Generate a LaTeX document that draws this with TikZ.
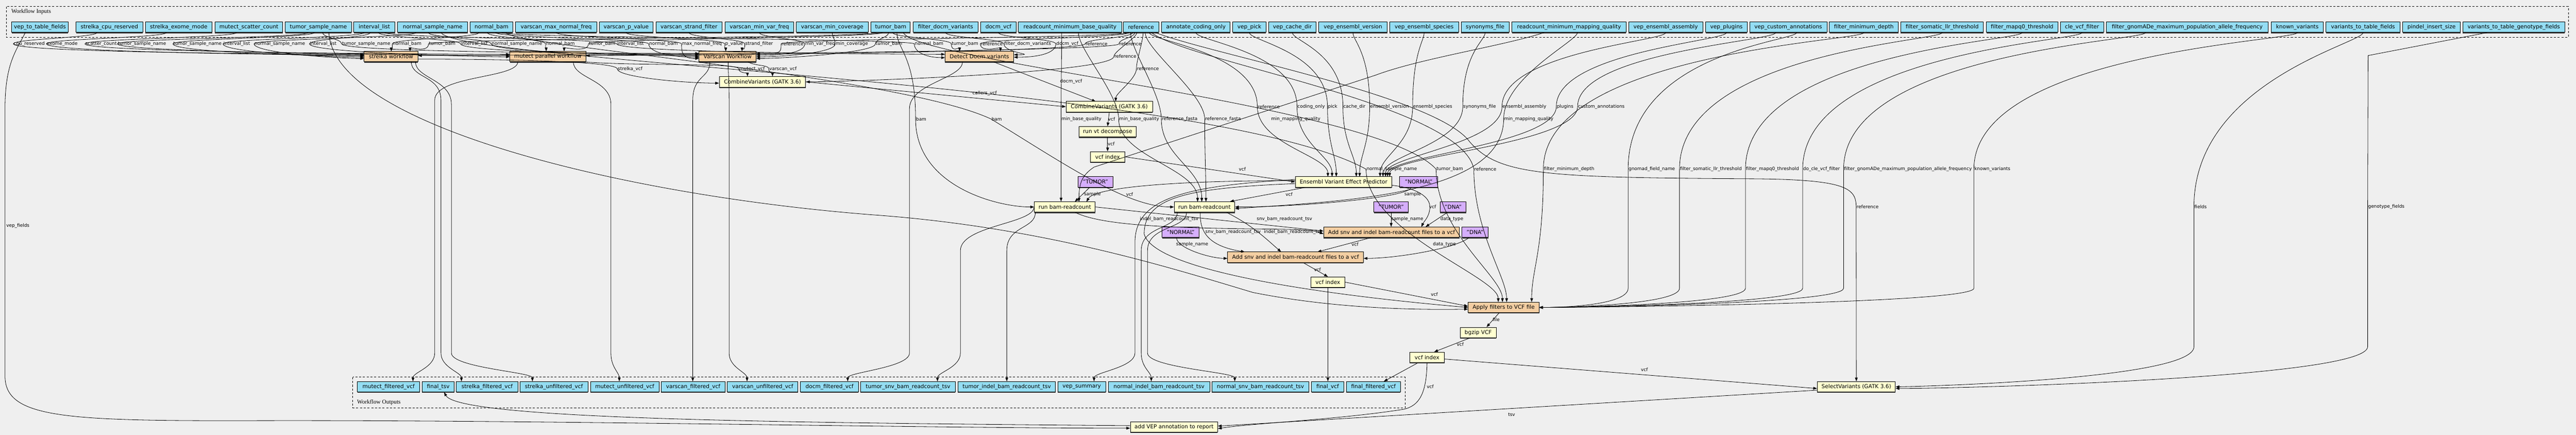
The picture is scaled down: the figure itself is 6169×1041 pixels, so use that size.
\documentclass[tikz,border=0pt]{standalone}
\usepackage{fontspec}
\setmainfont{DejaVu Sans}
\newfontfamily\serifcl{Liberation Serif}
\usetikzlibrary{arrows.meta,shadows}
\definecolor{bgc}{RGB}{239,239,239}
\definecolor{cin}{RGB}{148,221,244}
\definecolor{cor}{RGB}{244,206,162}
\definecolor{cye}{RGB}{255,255,208}
\definecolor{cpu}{RGB}{213,174,252}
\tikzset{
 box/.style={draw=black, line width=1.2pt, minimum height=25pt, inner xsep=2pt, inner ysep=1pt,
   font=\fontsize{13}{15}\selectfont,
   drop shadow={shadow xshift=0pt,shadow yshift=-2.2pt,fill=black!75,opacity=1}},
 inp/.style={box, fill=cin},
 orn/.style={box, fill=cor},
 yel/.style={box, fill=cye},
 pur/.style={box, fill=cpu},
 lb/.style={font=\fontsize{11}{13}\selectfont, inner sep=1pt},
 edg/.style={line width=1pt, -{Triangle[length=9pt,width=6.5pt]}},
 clus/.style={dash pattern=on 5pt off 4pt, line width=1.3pt},
 clab/.style={font=\serifcl\fontsize{14}{16}\selectfont, inner sep=0pt},
}
\newcommand\topedge[6]{\node[lb] (#2) at (#3,105) {#4};
 \draw[edg] #1 .. controls +(0,12) and +(0,-12) .. (#2.west) .. controls +(0,22) and +#5 .. #6;}
\newcommand\outedge[4]{\draw[edg] #1 .. controls +(0,40) and +(0,-60) .. (#2,#4) -- (#2,845) .. controls (#2,880) and +(0,-22) .. #3;}
\newcommand\vepedge[5]{\node[lb,anchor=west] (#3) at (#2,255) {#4};
 \draw[edg] #1 .. controls +(0,20) and +(0,-130) .. (#3.west) .. controls +(0,90) and +(0,-50) .. (#5,423);}
\newcommand\apedge[4]{\node[lb,anchor=west] (#3) at (#2,405) {#4};
 \draw[edg] #1 .. controls +(0,20) and +(0,-280) .. (#3.west) -- (#2,690) .. controls (#2,728) and (3760,736) .. (3686,736);}
\begin{document}
\begin{tikzpicture}[x=1pt,y=-1pt]
\fill[bgc] (0,0) rectangle (6169,1041);
\useasboundingbox (0,0) rectangle (6169,1041);
% clusters
\draw[clus] (15,16) rectangle (6151,89);
\node[clab,anchor=west] (tin) at (27,28) {Workflow Inputs};
\draw[clus] (845,903) rectangle (3365,976);
\node[clab,anchor=west] (tout) at (855,963) {Workflow Outputs};
% inputs
\node[inp,minimum width=135] (i1) at (95.5,65) {vep\_to\_table\_fields};
\node[inp,minimum width=160] (i2) at (262,65) {strelka\_cpu\_reserved};
\node[inp,minimum width=160] (i3) at (428,65) {strelka\_exome\_mode};
\node[inp,minimum width=162] (i4) at (596,65) {mutect\_scatter\_count};
\node[inp,minimum width=159] (i5) at (762.5,65) {tumor\_sample\_name};
\node[inp,minimum width=99] (i6) at (896.5,65) {interval\_list};
\node[inp,minimum width=168] (i7) at (1036,65) {normal\_sample\_name};
\node[inp,minimum width=102] (i8) at (1177,65) {normal\_bam};
\node[inp,minimum width=194] (i9) at (1332,65) {varscan\_max\_normal\_freq};
\node[inp,minimum width=129] (i10) at (1499.5,65) {varscan\_p\_value};
\node[inp,minimum width=158] (i11) at (1650,65) {varscan\_strand\_filter};
\node[inp,minimum width=165] (i12) at (1818.5,65) {varscan\_min\_var\_freq};
\node[inp,minimum width=172] (i13) at (1993,65) {varscan\_min\_coverage};
\node[inp,minimum width=94] (i14) at (2133,65) {tumor\_bam};
\node[inp,minimum width=155] (i15) at (2264.5,65) {filter\_docm\_variants};
\node[inp,minimum width=86] (i16) at (2391,65) {docm\_vcf};
\node[inp,minimum width=247] (i17) at (2562.5,65) {readcount\_minimum\_base\_quality};
\node[inp,minimum width=85] (i18) at (2732.5,65) {reference};
\node[inp,minimum width=164] (i19) at (2864,65) {annotate\_coding\_only};
\node[inp,minimum width=80] (i20) at (2992,65) {vep\_pick};
\node[inp,minimum width=114] (i21) at (3095,65) {vep\_cache\_dir};
\node[inp,minimum width=164] (i22) at (3240,65) {vep\_ensembl\_version};
\node[inp,minimum width=165] (i23) at (3410.5,65) {vep\_ensembl\_species};
\node[inp,minimum width=115] (i24) at (3556.5,65) {synonyms\_file};
\node[inp,minimum width=273] (i25) at (3757.5,65) {readcount\_minimum\_mapping\_quality};
\node[inp,minimum width=178] (i26) at (3989,65) {vep\_ensembl\_assembly};
\node[inp,minimum width=99] (i27) at (4134.5,65) {vep\_plugins};
\node[inp,minimum width=185] (i28) at (4282.5,65) {vep\_custom\_annotations};
\node[inp,minimum width=165] (i29) at (4463.5,65) {filter\_minimum\_depth};
\node[inp,minimum width=198] (i30) at (4651,65) {filter\_somatic\_llr\_threshold};
\node[inp,minimum width=171] (i31) at (4842.5,65) {filter\_mapq0\_threshold};
\node[inp,minimum width=104] (i32) at (4986,65) {cle\_vcf\_filter};
\node[inp,minimum width=388] (i33) at (5238,65) {filter\_gnomADe\_maximum\_population\_allele\_frequency};
\node[inp,minimum width=125] (i34) at (5501.5,65) {known\_variants};
\node[inp,minimum width=178] (i35) at (5659,65) {variants\_to\_table\_fields};
\node[inp,minimum width=138] (i36) at (5823,65) {pindel\_insert\_size};
\node[inp,minimum width=244] (i37) at (6020,65) {variants\_to\_table\_genotype\_fields};
% steps
\node[orn,minimum width=129] (S) at (936.5,135.5) {strelka workflow};
\node[orn,minimum width=182] (M) at (1312,135.5) {mutect parallel workflow};
\node[orn,minimum width=137] (V) at (1742.5,135.5) {Varscan Workflow};
\node[orn,minimum width=165] (D) at (2345.5,135.5) {Detect Docm variants};
\node[yel,minimum width=207] (CV1) at (1826,196) {CombineVariants (GATK 3.6)};
\node[yel,minimum width=207] (CV2) at (2656.5,255.5) {CombineVariants (GATK 3.6)};
\node[yel,minimum width=137] (VT) at (2652.5,315.5) {run vt decompose};
\node[yel,minimum width=83] (X1) at (2652.5,375.5) {vcf index};
\node[pur,minimum width=83] (T1) at (2623.5,435.5) {"TUMOR"};
\node[yel,minimum width=231] (VEP) at (3217.5,435.5) {Ensembl Variant Effect Predictor};
\node[pur,minimum width=91] (N1) at (3397.5,435.5) {"NORMAL"};
\node[yel,minimum width=146] (B1) at (2550,495.5) {run bam-readcount};
\node[yel,minimum width=145] (B2) at (2884.5,495.5) {run bam-readcount};
\node[pur,minimum width=83] (T2) at (3331.5,495.5) {"TUMOR"};
\node[pur,minimum width=62] (DN1) at (3480,495.5) {"DNA"};
\node[pur,minimum width=89] (N2) at (2827.5,556) {"NORMAL"};
\node[orn,minimum width=325] (A1) at (3332.5,556) {Add snv and indel bam-readcount files to a vcf};
\node[pur,minimum width=63] (DN2) at (3532.5,556) {"DNA"};
\node[orn,minimum width=325] (A2) at (3102.5,615.5) {Add snv and indel bam-readcount files to a vcf};
\node[yel,minimum width=82] (X2) at (3180,675.5) {vcf index};
\node[orn,minimum width=170] (AP) at (3601,736) {Apply filters to VCF file};
\node[yel,minimum width=86] (BG) at (3540,796) {bgzip VCF};
\node[yel,minimum width=83] (X3) at (3417.5,855.5) {vcf index};
\node[yel,minimum width=187] (SV) at (4445.5,926) {SelectVariants (GATK 3.6)};
\node[yel,minimum width=209] (AV) at (2811.5,1022) {add VEP annotation to report};
% outputs
\node[inp,minimum width=149] (o1) at (930.5,926) {mutect\_filtered\_vcf};
\node[inp,minimum width=77] (o2) at (1049.5,926) {final\_tsv};
\node[inp,minimum width=147] (o3) at (1166.5,926) {strelka\_filtered\_vcf};
\node[inp,minimum width=163] (o4) at (1326.5,926) {strelka\_unfiltered\_vcf};
\node[inp,minimum width=164] (o5) at (1496,926) {mutect\_unfiltered\_vcf};
\node[inp,minimum width=154] (o6) at (1660,926) {varscan\_filtered\_vcf};
\node[inp,minimum width=169] (o7) at (1826.5,926) {varscan\_unfiltered\_vcf};
\node[inp,minimum width=139] (o8) at (1986.5,926) {docm\_filtered\_vcf};
\node[inp,minimum width=227] (o9) at (2174.5,926) {tumor\_snv\_bam\_readcount\_tsv};
\node[inp,minimum width=234] (o10) at (2411,926) {tumor\_indel\_bam\_readcount\_tsv};
\node[inp,minimum width=115] (o11) at (2590.5,926) {vep\_summary};
\node[inp,minimum width=243] (o12) at (2775.5,926) {normal\_indel\_bam\_readcount\_tsv};
\node[inp,minimum width=233] (o13) at (3018.5,926) {normal\_snv\_bam\_readcount\_tsv};
\node[inp,minimum width=77] (o14) at (3179.5,926) {final\_vcf};
\node[inp,minimum width=130] (o15) at (3289,926) {final\_filtered\_vcf};
% ---- inputs to top steps
\topedge{([xshift=-30]i2.south)}{t1}{70}{cpu\_reserved}{(-60,0)}{(872,130)}
\topedge{([xshift=-30]i3.south)}{t2}{149}{exome\_mode}{(-60,0)}{(872,132)}
\topedge{([xshift=-30]i4.south)}{t3}{242}{scatter\_count}{(-60,0)}{(1221,130)}
\topedge{([xshift=-25]i5.south)}{t4}{340}{tumor\_sample\_name}{(-60,0)}{(1221,133)}
\topedge{([xshift=-10]i5.south)}{t5}{473}{tumor\_sample\_name}{(-60,0)}{(872,134)}
\topedge{([xshift=-25]i6.south)}{t6}{567}{interval\_list}{(-60,0)}{(872,137)}
\topedge{([xshift=-40]i7.south)}{t7}{670}{normal\_sample\_name}{(-60,0)}{(872,140)}
\topedge{([xshift=-10]i6.south)}{t8}{774}{interval\_list}{(-60,0)}{(1221,136)}
\topedge{([xshift=10]i5.south)}{t9}{877}{tumor\_sample\_name}{(-60,0)}{(1674,128)}
\topedge{([xshift=-30]i8.south)}{t10}{975}{normal\_bam}{(0,-10)}{(937,123)}
\topedge{([xshift=-35]i14.south)}{t11}{1059}{tumor\_bam}{(0,-10)}{(982,123)}
\topedge{([xshift=10]i6.south)}{t12}{1136}{interval\_list}{(-60,0)}{(1674,131)}
\topedge{([xshift=-10]i7.south)}{t13}{1238}{normal\_sample\_name}{(-60,0)}{(1674,134)}
\topedge{([xshift=-10]i8.south)}{t14}{1342}{normal\_bam}{(0,-10)}{(1308,123)}
\topedge{([xshift=-20]i14.south)}{t15}{1442}{tumor\_bam}{(0,-10)}{(1351,123)}
\topedge{([xshift=25]i6.south)}{t16}{1510}{interval\_list}{(-60,0)}{(2263,130)}
\topedge{([xshift=10]i8.south)}{t17}{1589}{normal\_bam}{(-60,0)}{(1674,137)}
\topedge{(i9.south)}{t18}{1681}{max\_normal\_freq}{(-40,0)}{(1674,140)}
\topedge{(i10.south)}{t19}{1758}{p\_value}{(0,-10)}{(1738,123)}
\topedge{(i11.south)}{t20}{1818}{strand\_filter}{(0,-10)}{(1777,123)}
\topedge{([xshift=-35]i18.south)}{t21}{1898}{reference}{(60,0)}{(1811,128)}
\topedge{(i12.south)}{t22}{1964}{min\_var\_freq}{(60,0)}{(1811,132)}
\topedge{(i13.south)}{t23}{2040}{min\_coverage}{(60,0)}{(1811,136)}
\topedge{([xshift=-5]i14.south)}{t24}{2129}{tumor\_bam}{(60,0)}{(1811,140)}
\topedge{([xshift=25]i8.south)}{t25}{2225}{normal\_bam}{(-40,0)}{(2263,138)}
\topedge{([xshift=5]i14.south)}{t26}{2311}{tumor\_bam}{(0,-10)}{(2298,123)}
\topedge{([xshift=-30]i18.south)}{t27}{2375}{reference}{(0,-10)}{(2396,123)}
\topedge{(i15.south)}{t28}{2461}{filter\_docm\_variants}{(60,0)}{(2428,131)}
\topedge{(i16.south)}{t29}{2556}{docm\_vcf}{(60,0)}{(2428,137)}
\topedge{([xshift=-20]i18.south)}{t30}{2626}{reference}{(60,0)}{(1403,133)}
\topedge{([xshift=-15]i18.south)}{t31}{2707}{reference}{(60,0)}{(1001,133)}
% ---- steps to CombineVariants
\node[lb] (lsv) at (1509,165) {strelka\_vcf};
\draw[edg] ([yshift=-6]S.east) .. controls +(150,0) and +(0,-20) .. (lsv.west) .. controls +(0,20) and +(-80,0) .. ([yshift=-3]CV1.west);
\node[lb] (lmv) at (1801,165) {mutect\_vcf};
\draw[edg] (M.south east) .. controls +(150,10) and +(0,-15) .. (lmv.west) .. controls +(0,10) and +(0,-8) .. (1790,183);
\node[lb] (lvv) at (1875,165) {varscan\_vcf};
\draw[edg] ([xshift=-20]V.south east) .. controls +(20,10) and +(0,-10) .. (lvv.west) .. controls +(0,10) and +(0,-8) .. (1850,183);
\node[lb] (lrc1) at (2695,135) {reference};
\draw[edg] ([xshift=-10]i18.south) .. controls +(0,12) and +(0,-12) .. (lrc1.west) .. controls +(0,40) and +(80,0) .. (CV1.east);
\node[lb] (lrc2) at (2749,164) {reference};
\draw[edg] ([xshift=5]i18.south) .. controls +(0,20) and +(0,-20) .. (lrc2.west) .. controls +(0,25) and +(0,-20) .. (2672,243);
\draw[edg] (CV1.east) -- (CV2.west);
\node[lb] (lcal) at (2358,224) {callers\_vcf};
\node[lb] (ldv2) at (2565,195) {docm\_vcf};
\draw[edg] ([xshift=35]D.south) -- (2624,243);
\draw[edg] (CV2.south) -- (VT.north);
\node[lb] (lv1) at (2662,285) {vcf};
\draw[edg] (VT.south) -- (X1.north);
\node[lb] (lv2) at (2661,344) {vcf};
\draw[edg] (X1.east) -- (VEP.west);
\node[lb] (lv3) at (2975,405) {vcf};
% ---- VEP inputs
\vepedge{([xshift=20]i18.south)}{3011}{v1}{reference}{3180}
\vepedge{(i19.south)}{3106}{v2}{coding\_only}{3190}
\vepedge{(i20.south)}{3179}{v3}{pick}{3200}
\vepedge{(i21.south)}{3216}{v4}{cache\_dir}{3248}
\vepedge{(i22.south)}{3280}{v5}{ensembl\_version}{3256}
\vepedge{(i23.south)}{3383}{v6}{ensembl\_species}{3305}
\vepedge{(i24.south)}{3503}{v7}{synonyms\_file}{3312}
\vepedge{(i26.south)}{3597}{v8}{ensembl\_assembly}{3318}
\vepedge{(i27.south)}{3727}{v9}{plugins}{3323}
\vepedge{([xshift=-30]i28.south)}{3778}{v10}{custom\_annotations}{3328}
% ---- bam-readcount inputs
\draw[edg] ([xshift=-14]T1.south) -- (2574,483);
\node[lb] (ls1) at (2616,465) {sample};
\node[lb] (lvb1) at (2705,465) {vcf};
\draw[edg] ([yshift=3]VEP.west) .. controls (2800,432) and (2620,450) .. (2602,483);
\draw[edg] ([xshift=25]VEP.south west) -- ([xshift=-12]B2.north east);
\node[lb] (lvb2) at (3087,465) {vcf};
\draw[edg] ([xshift=-18]N1.south) .. controls +(-5,25) and +(150,0) .. (B2.east);
\node[lb] (ls2) at (3383,465) {sample};
\node[lb] (lbb1) at (2206,285) {bam};
\draw[edg] ([xshift=15]i14.south) .. controls +(0,40) and +(0,-150) .. (lbb1.west) .. controls +(0,160) and +(-90,0) .. (B1.west);
\node[lb] (lbb2) at (2387,285) {bam};
\draw[edg] ([xshift=35]i8.south) .. controls +(0,30) and (2150,180) .. (lbb2.west) .. controls (2560,400) and (2700,495) .. (B2.west);
\node[lb] (lmb1) at (2590,285) {min\_base\_quality};
\draw[edg] ([xshift=-20]i17.south) .. controls +(0,30) and +(0,-60) .. (lmb1.west) -- (lmb1.west |- B1.north);
\node[lb] (lmb2) at (2728,285) {min\_base\_quality};
\draw[edg] ([xshift=20]i17.south) .. controls +(0,40) and +(0,-60) .. (lmb2.west) .. controls +(0,90) and +(0,-80) .. (2868,483);
\node[lb] (lrf1) at (2825,285) {reference\_fasta};
\draw[edg] ([xshift=-25]i18.south) .. controls +(0,40) and +(0,-60) .. (lrf1.west) .. controls +(0,90) and +(0,-80) .. (2878,483);
\node[lb] (lrf2) at (2929,285) {reference\_fasta};
\draw[edg] ([xshift=10]i18.south) .. controls +(0,40) and +(0,-60) .. (lrf2.west) .. controls +(0,90) and +(0,-60) .. (2888,483);
\node[lb] (lmm1) at (3103,285) {min\_mapping\_quality};
\draw[edg] ([xshift=-60]i25.south) .. controls (3600,110) and (3400,140) .. (3294,180) -- (2620,400) .. controls (2590,420) and (2584,440) .. (2584,483);
\node[lb] (lmm2) at (3661,285) {min\_mapping\_quality};
\draw[edg] ([xshift=20]i25.south) .. controls +(0,20) and +(0,-100) .. (lmm2.west) .. controls (3600,470) and (3200,482) .. ([yshift=-4]B2.east);
% ---- bam-readcount to add
\node[lb] (lib1) at (2800,525) {indel\_bam\_readcount\_tsv};
\draw[edg] ([xshift=25]B1.south) .. controls (2640,540) and (2800,545) .. (3000,548) .. controls (3100,549) and (3140,549) .. ([yshift=-4]A1.west);
\node[lb] (lsb1) at (3076,525) {snv\_bam\_readcount\_tsv};
\draw[edg] (B1.east) -- ([yshift=3]A1.west);
\node[lb] (lsb2) at (2953,555) {snv\_bam\_readcount\_tsv};
\draw[edg] ([xshift=-10]B2.south) .. controls (2872,560) and (2900,590) .. (2981,603);
\node[lb] (lib2) at (3097,555) {indel\_bam\_readcount\_tsv};
\draw[edg] ([xshift=-20]B2.south east) .. controls (3000,540) and (3030,570) .. (3068,603);
\node[lb] (lva1) at (3431,495) {vcf};
\draw[edg] ([yshift=-8]VEP.east) .. controls (3390,450) and (3428,470) .. (3424,500) .. controls (3422,520) and (3410,530) .. (3404,543);
\draw[edg] (T2.south) -- (T2.south |- A1.north);
\node[lb] (lsn1) at (3370,525) {sample\_name};
\draw[edg] ([xshift=-14]DN1.south) -- (3414,543);
\node[lb] (ldt1) at (3477,525) {data\_type};
\draw[edg] ([xshift=-10]N2.south) .. controls +(0,25) and +(-40,0) .. ([yshift=-3]A2.west);
\node[lb] (lsn2) at (2855,585) {sample\_name};
\draw[edg] ([xshift=-50]A1.south) -- (3155,603);
\node[lb] (lva2) at (3245,585) {vcf};
\draw[edg] ([xshift=-15]DN2.south) .. controls +(-30,25) and +(80,0) .. ([yshift=-3]A2.east);
\node[lb] (ldt2) at (3459,585) {data\_type};
\draw[edg] ([xshift=18]A2.south) -- (X2.north);
\node[lb] (lvx2) at (3155,645) {vcf};
\draw[edg] (X2.east) -- ([yshift=3]AP.west);
\node[lb] (lvap) at (3435,705) {vcf};
\draw[edg] (X2.south) -- (X2.south |- o14.north);
% ---- apply filters inputs
\node[lb] (lnsa) at (3333,405) {normal\_sample\_name};
\draw[edg] ([xshift=20]i7.south) .. controls (1100,150) and (2900,200) .. (lnsa.west) .. controls +(0,150) and +(0,-60) .. (3588,723);
\node[lb] (ltba) at (3472,405) {tumor\_bam};
\draw[edg] ([xshift=30]i14.south) .. controls (2200,150) and (3300,250) .. (ltba.west) .. controls +(0,150) and +(0,-60) .. (3598,723);
\node[lb] (lrap) at (3557,405) {reference};
\draw[edg] ([xshift=25]i18.south) .. controls (2850,150) and (3500,250) .. (lrap.west) .. controls +(0,150) and +(0,-60) .. (3608,723);
\node[lb,anchor=west] (a0) at (3696,405) {filter\_minimum\_depth};
\draw[edg] (i29.south) .. controls +(0,20) and +(0,-280) .. (a0.west) .. controls +(0,200) and +(0,-80) .. (3668,723);
\apedge{([xshift=20]i28.south)}{3899}{a1}{gnomad\_field\_name}
\apedge{(i30.south)}{4022}{a2}{filter\_somatic\_llr\_threshold}
\apedge{(i31.south)}{4180}{a3}{filter\_mapq0\_threshold}
\apedge{(i32.south)}{4317}{a4}{do\_cle\_vcf\_filter}
\apedge{([xshift=-100]i33.south)}{4415}{a5}{filter\_gnomADe\_maximum\_population\_allele\_frequency}
\apedge{(i34.south)}{4727}{a6}{known\_variants}
\draw[edg] ([yshift=-4]VEP.west) .. controls (2850,450) and (2740,470) .. (2740,560) .. controls (2760,640) and (3100,700) .. (AP.west);
\draw[edg] ([xshift=25]i5.south) .. controls (800,300) and (1500,470) .. (2100,515) .. controls (2500,545) and (2800,640) .. (3000,700) .. controls (3200,740) and (3400,742) .. ([yshift=-4]AP.west);
% ---- after apply
\draw[edg] ([xshift=-11]AP.south) -- ([xshift=20]BG.north);
\node[lb] (lfile) at (3583,765) {file};
\draw[edg] ([xshift=-20]BG.south) -- ([xshift=17]X3.north);
\node[lb] (lvx3) at (3497,825) {vcf};
\draw[edg] ([xshift=-22]X3.south) -- (3314,913);
\draw[edg] ([yshift=-4]X3.east) -- ([yshift=-4]SV.west);
\node[lb] (lvsv) at (3938,885) {vcf};
\draw[edg] (X3.south) .. controls (3416,940) and (3400,972) .. (3360,980) .. controls (3200,1005) and (3000,1013) .. ([yshift=-4]AV.east);
\node[lb] (lvav) at (3425,926) {vcf};
\draw[edg] ([yshift=-8]SV.west) -- ([yshift=2]AV.east);
\node[lb] (ltsv) at (3620,992) {tsv};
% ---- SelectVariants inputs
\node[lb,anchor=west] (lrsv) at (4445,495) {reference};
\draw[edg] ([xshift=35]i18.south) .. controls (2900,130) and (3440,230) .. (3520,340) .. controls (3590,420) and (3700,425) .. (4200,428) .. controls (4420,430) and (4445,450) .. (lrsv.west) -- (SV.north);
\node[lb,anchor=west] (lfd) at (5254,495) {fields};
\draw[edg] (i35.south) .. controls +(0,25) and +(0,-300) .. (lfd.west) -- (5254,830) .. controls (5254,905) and (4650,924) .. (SV.east);
\node[lb,anchor=west] (lgt) at (5670,495) {genotype\_fields};
\draw[edg] ([xshift=-64]i37.south) -- (5671,133) -- (lgt.west) -- (5670,830) .. controls (5670,905) and (4700,930) .. ([yshift=-4]SV.east);
% ---- add VEP annotation
\draw[edg] ([yshift=3]AV.west) .. controls (1900,1012) and (1100,1005) .. ([xshift=14]o2.south);
\draw[edg] ([xshift=-35]i1.south) .. controls (40,120) and (12,150) .. (12,260) -- (12,900) .. controls (12,1000) and (150,1008) .. (600,1007) .. controls (1300,1005) and (2200,1025) .. ([yshift=-3]AV.west);
\node[lb,anchor=west] (lvf) at (14,540) {vep\_fields};
% ---- steps to outputs
\outedge{(1240,148)}{1041}{(989,913)}{240}
\outedge{(985,148)}{1056}{(1105,913)}{240}
\outedge{(995,148)}{1081}{(1275,913)}{250}
\outedge{(1373,148)}{1463}{(1483,913)}{250}
\outedge{(1700,148)}{1659}{(1659,913)}{240}
\outedge{(1744,148)}{1746}{(1789,913)}{240}
\outedge{(2305,148)}{2178}{(2030,913)}{260}
\outedge{(B1.west)}{2300}{(2245,913)}{600}
\outedge{([xshift=3]B1.south west)}{2411}{(2411,913)}{600}
\outedge{([xshift=8]B2.south west)}{2733}{(2757,913)}{600}
\outedge{([xshift=30]B2.south west)}{2748}{(2957,913)}{600}
\draw[edg] ([yshift=6]VEP.west) .. controls (2850,445) and (2718,470) .. (2718,580) -- (2718,845) .. controls (2718,880) and (2620,891) .. (2620,913);
\end{tikzpicture}
\end{document}
